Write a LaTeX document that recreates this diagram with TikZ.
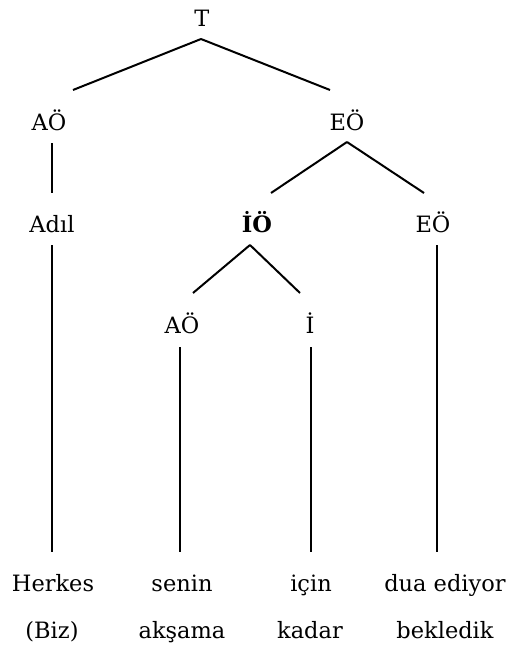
\documentclass[tikz,border=0pt]{standalone}
\usepackage{fontspec}
\setmainfont{DejaVu Serif}
\begin{document}
\begin{tikzpicture}[x=1pt,y=-1pt,
  lbl/.style={anchor=base,inner sep=0pt,font=\fontsize{22.5}{27}\selectfont},
  edge/.style={line width=2pt}]
\useasboundingbox (0,0) rectangle (513,650);
\node[lbl] (T) at (202,27) {T};
\node[lbl] (AOa) at (49,130) {AÖ};
\node[lbl] (EOa) at (347,130) {EÖ};
\node[lbl] (Adil) at (52,232) {Adıl};
\node[lbl,font=\fontsize{22.5}{27}\selectfont\bfseries] (IO) at (257,232) {İÖ};
\node[lbl] (EOb) at (433,232) {EÖ};
\node[lbl] (AOb) at (182,333) {AÖ};
\node[lbl] (I) at (310,333) {İ};
\node[lbl] (herkes) at (53,591) {Herkes};
\node[lbl] (senin) at (182,591) {senin};
\node[lbl] (icin) at (311,591) {için};
\node[lbl] (dua) at (445,591) {dua ediyor};
\node[lbl] (biz) at (52,638) {(Biz)};
\node[lbl] (aksama) at (182,638) {akşama};
\node[lbl] (kadar) at (310,638) {kadar};
\node[lbl] (bekledik) at (445,638) {bekledik};
% connectors
\draw[edge] ([shift={(-1,12)}]T.base) -- ([shift={(24,-40)}]AOa.base);
\draw[edge] ([shift={(-1,12)}]T.base) -- ([shift={(-17,-40)}]EOa.base);
\draw[edge] ([shift={(3,13)}]AOa.base) -- ([shift={(0,-39)}]Adil.base);
\draw[edge] ([shift={(0,12)}]EOa.base) -- ([shift={(14,-39)}]IO.base);
\draw[edge] ([shift={(0,12)}]EOa.base) -- ([shift={(-9,-39)}]EOb.base);
\draw[edge] ([shift={(0,13)}]Adil.base) -- ([shift={(-1,-39)}]herkes.base);
\draw[edge] ([shift={(-7,13)}]IO.base) -- ([shift={(11,-40)}]AOb.base);
\draw[edge] ([shift={(-7,13)}]IO.base) -- ([shift={(-10,-40)}]I.base);
\draw[edge] ([shift={(4,13)}]EOb.base) -- ([shift={(-8,-39)}]dua.base);
\draw[edge] ([shift={(-2,14)}]AOb.base) -- ([shift={(-2,-39)}]senin.base);
\draw[edge] ([shift={(1,14)}]I.base) -- ([shift={(0,-39)}]icin.base);
\end{tikzpicture}
\end{document}
